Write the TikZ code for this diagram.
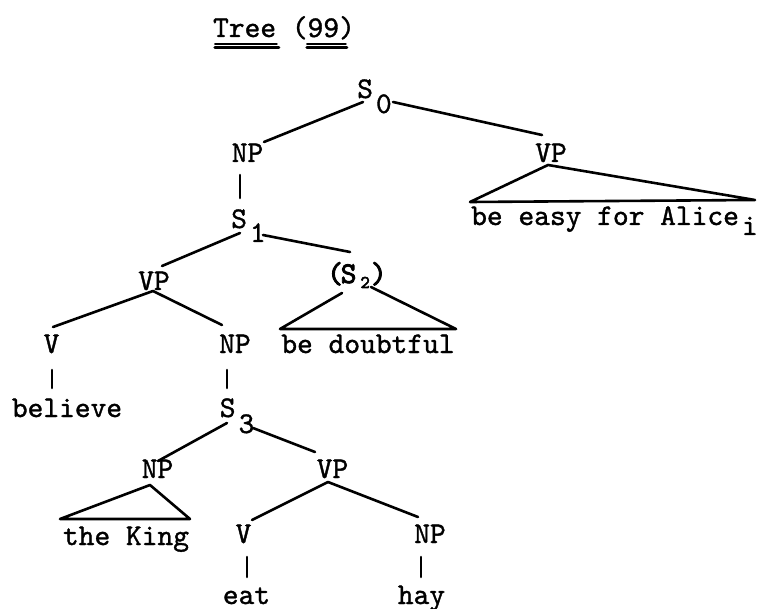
\documentclass[tikz,border=0pt]{standalone}
\usepackage{fontspec}
\setmonofont{lmmono10-regular}[Extension=.otf,FakeBold=1.2]
\newfontfamily\heavymono{lmmono10-regular}[Extension=.otf,FakeBold=3]
\usetikzlibrary{calc}
\newcommand\subsc[2][15pt]{\kern3pt\raisebox{-#1}{#2}}
\begin{document}
\begin{tikzpicture}[x=1pt,y=-1pt,
  lbl/.style={inner sep=0pt,anchor=base,font=\fontsize{30}{36}\selectfont\ttfamily},
  branch/.style={line width=2.6pt,line cap=round,line join=round},
  uline/.style={line width=2pt,line cap=round}]
\useasboundingbox (0,0) rectangle (757,609);
% title
\node[lbl] (title) at (284,37) {Tree (99)};
\draw[uline,line width=1.6pt] ($(title.base west)+(2,7)$) -- ($(title.base west)+(64,7)$);
\draw[uline,line width=3pt] ($(title.base west)+(2,11)$) -- ($(title.base west)+(66,11)$);
\draw[uline,line width=1.6pt] ($(title.base west)+(94,7)$) -- ($(title.base west)+(133,7)$);
\draw[uline,line width=3pt] ($(title.base west)+(94,11)$) -- ($(title.base west)+(134,11)$);
% nodes
\node[lbl,anchor=base west] (s0) at (357,98) {S\subsc{0}};
\node[lbl] (np1) at (247.5,162) {NP};
\node[lbl] (vp1) at (551,162) {VP};
\node[lbl,anchor=base west] (alice) at (471,225) {be easy for Alice\subsc[10pt]{i}};
\node[lbl,anchor=base west] (s1) at (231,228) {S\subsc[14pt]{1}};
\node[lbl] (vp2) at (154,290) {VP};
\node[lbl,anchor=base west,font=\fontsize{30}{36}\selectfont\heavymono] (s2) at (327,283)
  {(\kern-2.25pt S\kern4pt\raisebox{-5pt}{\fontsize{18}{18}\selectfont 2}\kern1pt)};
\node[lbl] (doubt) at (368,353) {be doubtful};
\node[lbl] (v1) at (51.5,353) {V};
\node[lbl] (np2) at (235,353) {NP};
\node[lbl] (believe) at (67,417) {believe};
\node[lbl,anchor=base west] (s3) at (219.6,417) {S\subsc[16pt]{3}};
\node[lbl] (np3) at (157.5,478) {NP};
\node[lbl] (vp3) at (332.5,478) {VP};
\node[lbl] (king) at (126,545) {the King};
\node[lbl] (v2) at (243.5,543) {V};
\node[lbl] (np4) at (430,543) {NP};
\node[lbl] (eat) at (246.5,604) {eat};
\node[lbl] (hay) at (421.5,604) {hay};
% connectors
\draw[branch] ($(s0.base west)+(6,4)$) -- ($(np1.base)+(16.5,-20)$);
\draw[branch] ($(s0.base west)+(36,4)$) -- ($(vp1.base)+(-9,-27)$);
\draw[branch] ($(np1.base)+(-7.5,13)$) -- ($(s1.base west)+(9,-30)$);
\draw[branch] ($(alice.base west)+(-1,-23)$) -- ($(vp1.base)+(-3,3)$) -- ($(alice.base west)+(284,-25)$) -- cycle;
\draw[branch] ($(s1.base west)+(9,5)$) -- ($(vp2.base)+(8,-24)$);
\draw[branch] ($(s1.base west)+(32,7)$) -- ($(s2.base west)+(23,-31)$);
\draw[branch] ($(s2.base west)+(15,10)$) -- ($(doubt.base)+(-88,-24)$) -- ($(doubt.base)+(88,-24)$) -- ($(s2.base west)+(44,4)$);
\draw[branch] ($(vp2.base)+(-1,1)$) -- ($(v1.base)+(1.5,-26)$);
\draw[branch] ($(vp2.base)+(-1,1)$) -- ($(np2.base)+(-13,-28)$);
\draw[branch] ($(v1.base)+(0.5,17)$) -- ($(believe.base)+(-15,-29)$);
\draw[branch] ($(np2.base)+(-8,17)$) -- ($(s3.base west)+(7.4,-29)$);
\draw[branch] ($(s3.base west)+(7.4,6)$) -- ($(np3.base)+(0.5,-17)$);
\draw[branch] ($(s3.base west)+(33.4,11)$) -- ($(vp3.base)+(-17.5,-26)$);
\draw[branch] ($(king.base)+(-66,-26)$) -- ($(np3.base)+(-7.5,7)$) -- ($(king.base)+(64,-26)$) -- cycle;
\draw[branch] ($(vp3.base)+(-4.5,4)$) -- ($(v2.base)+(8.5,-23)$);
\draw[branch] ($(vp3.base)+(-4.5,4)$) -- ($(np4.base)+(-12,-26)$);
\draw[branch] ($(v2.base)+(3.5,14)$) -- ($(eat.base)+(0.5,-27)$);
\draw[branch] ($(np4.base)+(-9,14)$) -- ($(hay.base)+(-0.5,-27)$);
\end{tikzpicture}
\end{document}
